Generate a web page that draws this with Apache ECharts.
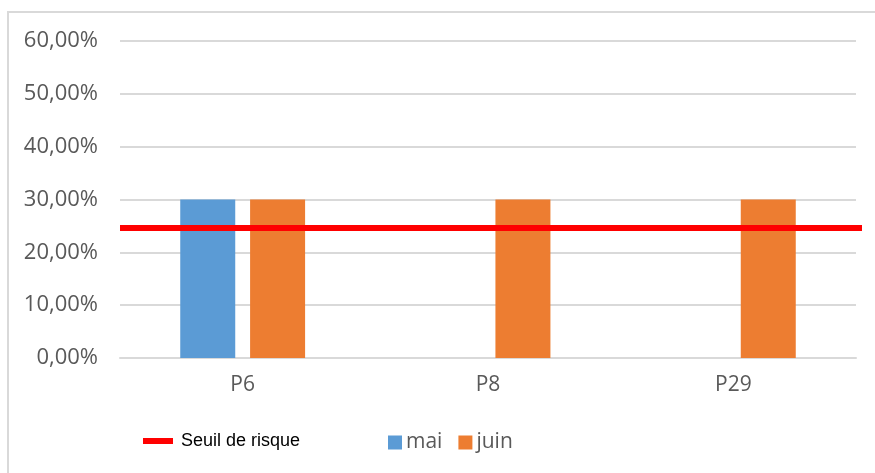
<!DOCTYPE html>
<html>
<head>
<meta charset="utf-8">
<script src="https://cdn.jsdelivr.net/npm/echarts@6/dist/echarts.min.js"></script>
<style>
  html, body { margin: 0; padding: 0; background: #fff; }
  #main { position: absolute; left: 0; top: 0; width: 875px; height: 473px; }
  .frame { position: absolute; left: 7px; top: 11px; width: 900px; height: 500px;
           border-left: 2px solid #d9d9d9; border-top: 2px solid #d9d9d9; }
</style>
</head>
<body>
<div class="frame"></div>
<div id="main"></div>
<script>
// données
const categories = ['P6', 'P8', 'P29'];
const mai = [0.30, null, null];
const juin = [0.30, 0.30, 0.30];
const seuil = 0.246;
const yTicks = [0, 0.1, 0.2, 0.3, 0.4, 0.5, 0.6];

const chart = echarts.init(document.getElementById('main'));
const labelColor = '#595959';
const font = '"Open Sans", "Noto Sans", sans-serif';

const option = {
    animation: false,
    grid: [
        { left: 120, right: 19, top: 41, bottom: 115 },
        // grille du seuil, un peu plus large à droite
        { left: 120, right: 13, top: 41, bottom: 115 }
    ],
    legend: [
        {
            data: [{ name: 'Seuil de risque' }],
            left: 143, top: 432, padding: 0,
            itemWidth: 30, itemHeight: 6, itemGap: 14,
            icon: 'rect',
            textStyle: { color: '#000', fontSize: 18, fontFamily: '"Liberation Sans", Arial, sans-serif', padding: [0, 0, 0, 3] }
        },
        {
            data: ['mai', 'juin'],
            left: 388, top: 432, padding: 0,
            itemWidth: 14, itemHeight: 14, itemGap: 16,
            icon: 'rect',
            textStyle: { color: labelColor, fontSize: 21, fontFamily: font, padding: [0, 0, 0, -1] }
        }
    ],
    xAxis: [
        {
            type: 'category',
            data: categories,
            gridIndex: 0,
            axisLine: { lineStyle: { color: '#d9d9d9', width: 2 } },
            axisTick: { show: false },
            axisLabel: { color: labelColor, fontSize: 21, fontFamily: font, margin: 17 }
        },
        {
            type: 'value', gridIndex: 1, min: 0, max: 1, show: false
        }
    ],
    yAxis: [
        {
            type: 'value',
            gridIndex: 0,
            min: 0, max: 0.6, interval: 0.1,
            axisLine: { show: false },
            axisTick: { show: false },
            splitLine: { lineStyle: { color: '#d9d9d9', width: 2 } },
            axisLabel: {
                color: labelColor, fontSize: 22, fontFamily: font, margin: 22,
                formatter: v => yTicks.includes(Math.round(v * 10) / 10)
                    ? (v * 100).toFixed(2).replace('.', ',') + '%' : ''
            }
        },
        {
            type: 'value', gridIndex: 1, min: 0, max: 0.6, show: false
        }
    ],
    series: [
        {
            name: 'mai', type: 'bar', data: mai,
            xAxisIndex: 0, yAxisIndex: 0,
            barWidth: 55, barGap: '27%',
            itemStyle: { color: '#5b9bd5' }
        },
        {
            name: 'juin', type: 'bar', data: juin,
            xAxisIndex: 0, yAxisIndex: 0,
            barWidth: 55,
            itemStyle: { color: '#ed7d31' }
        },
        {
            name: 'Seuil de risque', type: 'line',
            xAxisIndex: 1, yAxisIndex: 1,
            data: [[0, seuil], [1, seuil]],
            symbol: 'none',
            lineStyle: { color: '#ff0000', width: 6 },
            itemStyle: { color: '#ff0000' },
            z: 5
        }
    ]
};
chart.setOption(option);
</script>
</body>
</html>
